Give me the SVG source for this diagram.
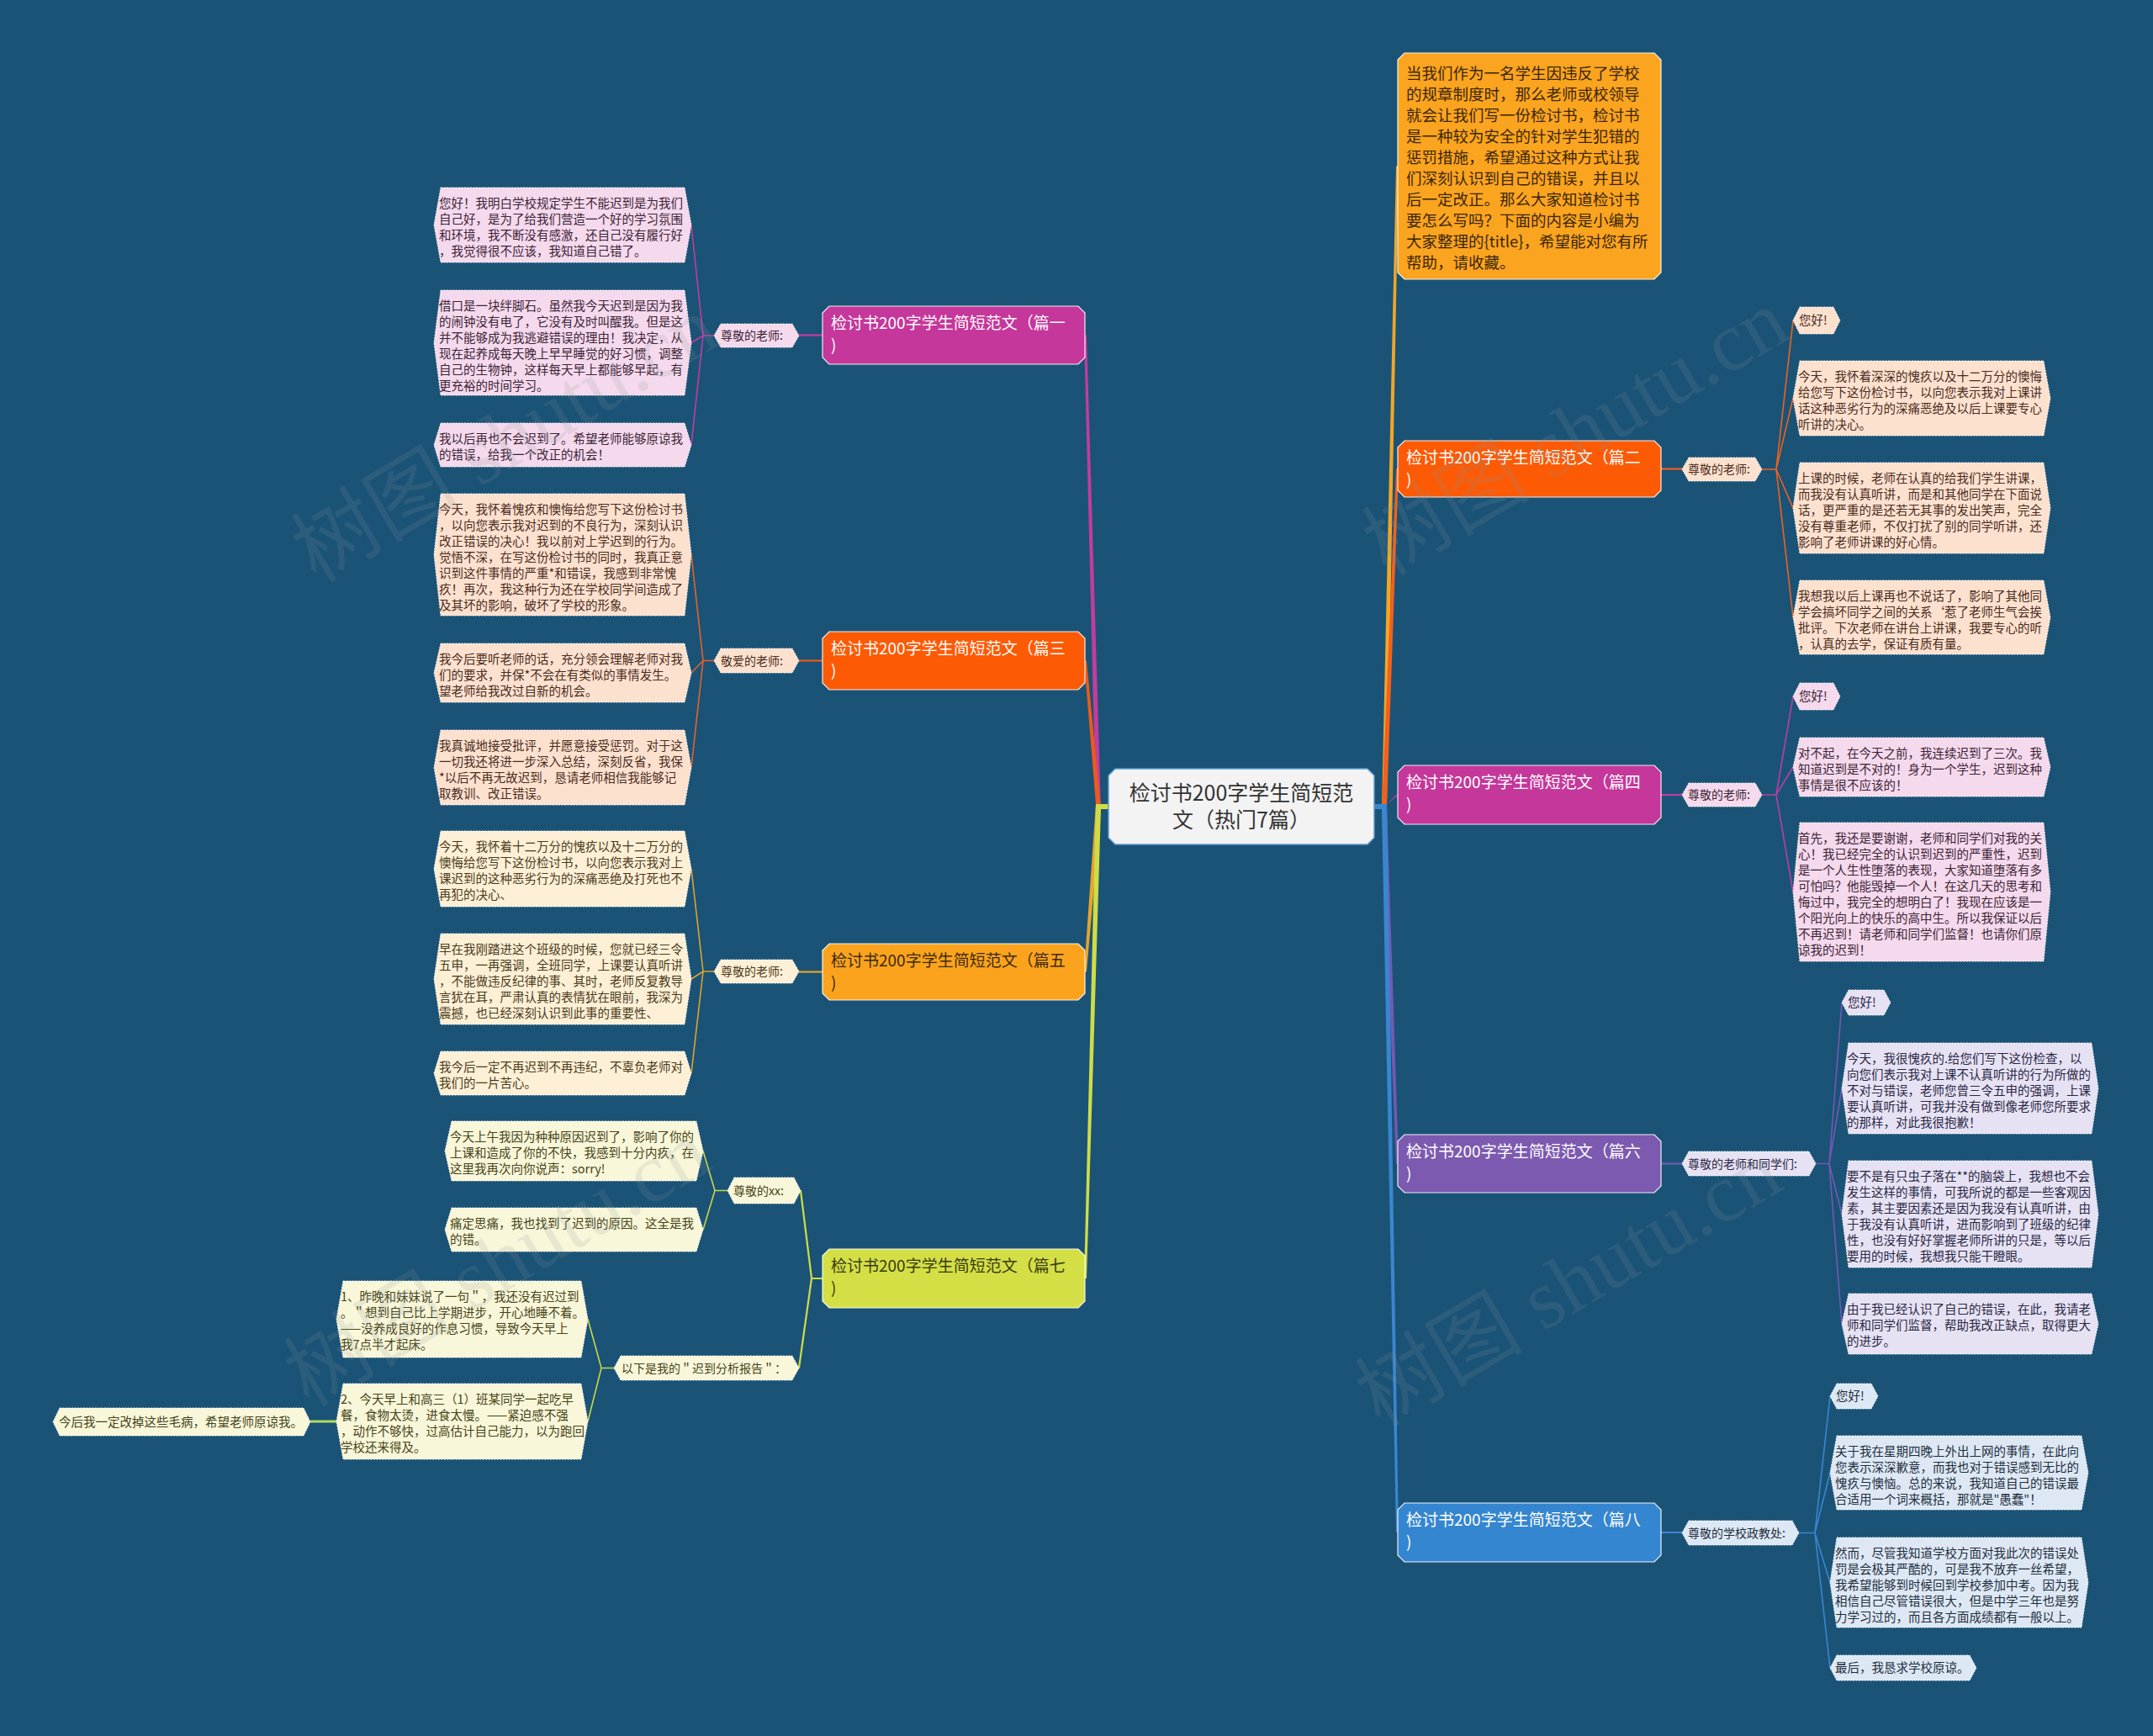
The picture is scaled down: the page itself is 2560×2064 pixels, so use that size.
<svg xmlns="http://www.w3.org/2000/svg" width="2560" height="2064" viewBox="0 0 2560 2064">
<style>
.t{font-family:"Noto Sans CJK SC","Noto Sans",sans-serif}
.lt{font-size:14.5px}
.mt{font-size:14px}
.bt{font-size:19px}
.leaf{stroke:#ffffff;stroke-width:1;stroke-dasharray:2 1.5;stroke-opacity:.85}
.main{stroke:#ffffff;stroke-width:1.2;stroke-opacity:.9}
.pk{fill:#F5D9EC}.pkt{fill:#3b2436}
.pe{fill:#FDE1CF}.pet{fill:#4a2c1c}
.cr{fill:#FEF0D6}.crt{fill:#4b3b1c}
.yl{fill:#F9F7D9}.ylt{fill:#46441a}
.lv{fill:#E6E2F3}.lvt{fill:#2a2745}
.lb{fill:#DDE8F4}.lbt{fill:#1e2e3e}
.ln{fill:none;stroke-width:1.6;stroke-linejoin:round}
.ln2{fill:none;stroke-width:2.2}
.wm{font-family:"Liberation Serif","Noto Sans CJK SC",serif;font-size:100px;fill:#8a969c;opacity:.16}
</style>
<rect width="2560" height="2064" fill="#1A5376"/>

<g id="connectors">
  <!-- center to main (tapered) -->
  <polygon points="1320,956 1303,956 1289,398.5 1292,398.5 1309,962 1320,962" fill="#C43C9C"/>
  <polygon points="1320,956 1303,956 1289,785.5 1292,785.5 1309,962 1320,962" fill="#EE5A1A"/>
  <polygon points="1320,956 1303,956 1289,1155.5 1292,1155.5 1309,962 1320,962" fill="#E8A42A"/>
  <polygon points="1320,956 1303,956 1289,1520 1292,1520 1309,962 1320,962" fill="#CFDC46"/>
  <polygon points="1632,956 1649,956 1663,197.5 1660,197.5 1643,962 1632,962" fill="#F2A626"/>
  <polygon points="1632,956 1649,956 1663,557.5 1660,557.5 1643,962 1632,962" fill="#F2601C"/>
  <polygon points="1632,956 1649,956 1663,945 1660,945 1643,962 1632,962" fill="#BE3E9E"/>
  <polygon points="1632,956 1649,956 1663,1383.5 1660,1383.5 1643,962 1632,962" fill="#7558B4"/>
  <polygon points="1632,956 1649,956 1663,1822 1660,1822 1643,962 1632,962" fill="#3A86D0"/>
  <!-- main to sub -->
  <path class="ln2" stroke="#C43C9C" d="M978,398.5 H950"/>
  <path class="ln2" stroke="#EE5A1A" d="M978,785.5 H950"/>
  <path class="ln2" stroke="#E8A42A" d="M978,1155.5 H950"/>
  <path class="ln2" stroke="#CFDC46" d="M978,1520 H965 L952,1415.5 M965,1520 L950,1626.5"/>
  <path class="ln2" stroke="#F2601C" d="M1975,557.5 H2000"/>
  <path class="ln2" stroke="#BE3E9E" d="M1975,945 H2000"/>
  <path class="ln2" stroke="#7558B4" d="M1975,1383.5 H2000"/>
  <path class="ln2" stroke="#3A86D0" d="M1975,1822 H2000"/>
  <!-- sub to leaves -->
  <path class="ln" stroke="#C43C9C" d="M849,399 H836 L822,267.5 M836,399 L822,407.5 M836,399 L822,529"/>
  <path class="ln" stroke="#E8622A" d="M849,785.5 H836 L822,659.5 M836,785.5 L822,800 M836,785.5 L822,912.5"/>
  <path class="ln" stroke="#E2A32E" d="M849,1155 H836 L822,1033 M836,1155 L822,1164 M836,1155 L822,1276"/>
  <path class="ln" stroke="#C9D64A" d="M865,1415.5 H850 L836,1368.5 M850,1415.5 L836,1462"/>
  <path class="ln" stroke="#C9D64A" d="M730,1626.5 H715 L699,1568.5 M715,1626.5 L699,1690"/>
  <path fill="none" stroke="#B8D860" stroke-width="3" d="M400,1690 H369"/>
  <path class="ln" stroke="#F0621E" d="M2095,558 H2112 L2132,381 M2112,558 L2132,473.5 M2112,558 L2132,604 M2112,558 L2132,734"/>
  <path class="ln" stroke="#B8409F" d="M2095,945 H2112 L2132,828 M2112,945 L2132,912 M2112,945 L2132,1060.5"/>
  <path class="ln" stroke="#7458B4" d="M2159,1383.5 H2175 L2190,1192 M2175,1383.5 L2190,1294 M2175,1383.5 L2190,1443.5 M2175,1383.5 L2190,1574"/>
  <path class="ln" stroke="#3A86D0" d="M2139,1822.5 H2158 L2176,1660 M2158,1822.5 L2176,1751 M2158,1822.5 L2176,1881.5 M2158,1822.5 L2176,1983"/>
</g>

<g id="center">
  <polygon points="1326,914 1626,914 1634,922 1634,996 1626,1004 1326,1004 1318,996 1318,922" fill="#F3F3F3" stroke="#5B9BD5" stroke-width="1.5"/>
  <text class="t" font-size="25" fill="#333333" text-anchor="middle"><tspan x="1476" y="952">检讨书200字学生简短范</tspan><tspan x="1476" y="984">文（热门7篇）</tspan></text>
</g>

<g id="intro">
  <polygon class="main" points="1670,63 1967,63 1975,71 1975,324 1967,332 1670,332 1662,324 1662,71" fill="#FBA41F"/>
  <text class="t" font-size="18.5" fill="#3a2606">
    <tspan x="1672" y="93.5">当我们作为一名学生因违反了学校</tspan>
    <tspan x="1672" y="118.5">的规章制度时，那么老师或校领导</tspan>
    <tspan x="1672" y="143.5">就会让我们写一份检讨书，检讨书</tspan>
    <tspan x="1672" y="168.5">是一种较为安全的针对学生犯错的</tspan>
    <tspan x="1672" y="193.5">惩罚措施，希望通过这种方式让我</tspan>
    <tspan x="1672" y="218.5">们深刻认识到自己的错误，并且以</tspan>
    <tspan x="1672" y="243.5">后一定改正。那么大家知道检讨书</tspan>
    <tspan x="1672" y="268.5">要怎么写吗？下面的内容是小编为</tspan>
    <tspan x="1672" y="293.5">大家整理的{title}，希望能对您有所</tspan>
    <tspan x="1672" y="318.5">帮助，请收藏。</tspan>
  </text>
</g>

<!-- 篇一 -->
<g id="p1">
  <polygon class="main" points="986,364 1282,364 1290,372 1290,425 1282,433 986,433 978,425 978,372" fill="#C5379A"/>
  <text class="t bt" fill="#ffffff"><tspan x="988" y="391">检讨书200字学生简短范文（篇一</tspan><tspan x="988" y="417">)</tspan></text>
</g>
<g id="p1-m">
  <polygon class="leaf pk" points="857,385 942,385 950,399 942,413 857,413 849,399"/>
  <text class="t mt pkt" x="857" y="404">尊敬的老师:</text>
</g>
<g id="p1-a">
  <polygon class="leaf pk" points="524,223 814,223 822,267.5 814,312 524,312 516,267.5"/>
  <text class="t lt pkt"><tspan x="522" y="246.5">您好！我明白学校规定学生不能迟到是为我们</tspan><tspan x="522" y="265.5">自己好，是为了给我们营造一个好的学习氛围</tspan><tspan x="522" y="284.5">和环境，我不断没有感激，还自己没有履行好</tspan><tspan x="522" y="303.5">，我觉得很不应该，我知道自己错了。</tspan></text>
</g>
<g id="p1-b">
  <polygon class="leaf pk" points="524,345 814,345 822,407.5 814,470 524,470 516,407.5"/>
  <text class="t lt pkt"><tspan x="522" y="368.5">借口是一块绊脚石。虽然我今天迟到是因为我</tspan><tspan x="522" y="387.5">的闹钟没有电了，它没有及时叫醒我。但是这</tspan><tspan x="522" y="406.5">并不能够成为我逃避错误的理由！我决定，从</tspan><tspan x="522" y="425.5">现在起养成每天晚上早早睡觉的好习惯，调整</tspan><tspan x="522" y="444.5">自己的生物钟，这样每天早上都能够早起，有</tspan><tspan x="522" y="463.5">更充裕的时间学习。</tspan></text>
</g>
<g id="p1-c">
  <polygon class="leaf pk" points="524,503 814,503 822,529 814,555 524,555 516,529"/>
  <text class="t lt pkt"><tspan x="522" y="526.5">我以后再也不会迟到了。希望老师能够原谅我</tspan><tspan x="522" y="545.5">的错误，给我一个改正的机会！</tspan></text>
</g>

<!-- 篇三 -->
<g id="p3">
  <polygon class="main" points="986,751 1282,751 1290,759 1290,812 1282,820 986,820 978,812 978,759" fill="#FD5A05"/>
  <text class="t bt" fill="#ffffff"><tspan x="988" y="778">检讨书200字学生简短范文（篇三</tspan><tspan x="988" y="804">)</tspan></text>
</g>
<g id="p3-m">
  <polygon class="leaf pe" points="857,771 942,771 950,785.5 942,800 857,800 849,785.5"/>
  <text class="t mt pet" x="857" y="790.5">敬爱的老师:</text>
</g>
<g id="p3-a">
  <polygon class="leaf pe" points="524,587 814,587 822,659.5 814,732 524,732 516,659.5"/>
  <text class="t lt pet"><tspan x="522" y="610.5">今天，我怀着愧疚和懊悔给您写下这份检讨书</tspan><tspan x="522" y="629.5">，以向您表示我对迟到的不良行为，深刻认识</tspan><tspan x="522" y="648.5">改正错误的决心！我以前对上学迟到的行为。</tspan><tspan x="522" y="667.5">觉悟不深，在写这份检讨书的同时，我真正意</tspan><tspan x="522" y="686.5">识到这件事情的严重*和错误，我感到非常愧</tspan><tspan x="522" y="705.5">疚！再次，我这种行为还在学校同学间造成了</tspan><tspan x="522" y="724.5">及其坏的影响，破坏了学校的形象。</tspan></text>
</g>
<g id="p3-b">
  <polygon class="leaf pe" points="524,765 814,765 822,800 814,835 524,835 516,800"/>
  <text class="t lt pet"><tspan x="522" y="788.5">我今后要听老师的话，充分领会理解老师对我</tspan><tspan x="522" y="807.5">们的要求，并保*不会在有类似的事情发生。</tspan><tspan x="522" y="826.5">望老师给我改过自新的机会。</tspan></text>
</g>
<g id="p3-c">
  <polygon class="leaf pe" points="524,868 814,868 822,912.5 814,957 524,957 516,912.5"/>
  <text class="t lt pet"><tspan x="522" y="891.5">我真诚地接受批评，并愿意接受惩罚。对于这</tspan><tspan x="522" y="910.5">一切我还将进一步深入总结，深刻反省，我保</tspan><tspan x="522" y="929.5">*以后不再无故迟到，恳请老师相信我能够记</tspan><tspan x="522" y="948.5">取教训、改正错误。</tspan></text>
</g>

<!-- 篇五 -->
<g id="p5">
  <polygon class="main" points="986,1122 1282,1122 1290,1130 1290,1181 1282,1189 986,1189 978,1181 978,1130" fill="#FBA31D"/>
  <text class="t bt" fill="#3a2a10"><tspan x="988" y="1149">检讨书200字学生简短范文（篇五</tspan><tspan x="988" y="1175">)</tspan></text>
</g>
<g id="p5-m">
  <polygon class="leaf cr" points="857,1141 942,1141 950,1155 942,1169 857,1169 849,1155"/>
  <text class="t mt crt" x="857" y="1160">尊敬的老师:</text>
</g>
<g id="p5-a">
  <polygon class="leaf cr" points="524,988 814,988 822,1033 814,1078 524,1078 516,1033"/>
  <text class="t lt crt"><tspan x="522" y="1011.5">今天，我怀着十二万分的愧疚以及十二万分的</tspan><tspan x="522" y="1030.5">懊悔给您写下这份检讨书，以向您表示我对上</tspan><tspan x="522" y="1049.5">课迟到的这种恶劣行为的深痛恶绝及打死也不</tspan><tspan x="522" y="1068.5">再犯的决心、</tspan></text>
</g>
<g id="p5-b">
  <polygon class="leaf cr" points="524,1110 814,1110 822,1164 814,1218 524,1218 516,1164"/>
  <text class="t lt crt"><tspan x="522" y="1133.5">早在我刚踏进这个班级的时候，您就已经三令</tspan><tspan x="522" y="1152.5">五申，一再强调，全班同学，上课要认真听讲</tspan><tspan x="522" y="1171.5">，不能做违反纪律的事、其时，老师反复教导</tspan><tspan x="522" y="1190.5">言犹在耳，严肃认真的表情犹在眼前，我深为</tspan><tspan x="522" y="1209.5">震撼，也已经深刻认识到此事的重要性、</tspan></text>
</g>
<g id="p5-c">
  <polygon class="leaf cr" points="524,1250 814,1250 822,1276 814,1302 524,1302 516,1276"/>
  <text class="t lt crt"><tspan x="522" y="1273.5">我今后一定不再迟到不再违纪，不辜负老师对</tspan><tspan x="522" y="1292.5">我们的一片苦心。</tspan></text>
</g>

<!-- 篇七 -->
<g id="p7">
  <polygon class="main" points="986,1485 1282,1485 1290,1493 1290,1547 1282,1555 986,1555 978,1547 978,1493" fill="#D3DF45"/>
  <text class="t bt" fill="#3a3a12"><tspan x="988" y="1512">检讨书200字学生简短范文（篇七</tspan><tspan x="988" y="1538">)</tspan></text>
</g>
<g id="p7-m1">
  <polygon class="leaf yl" points="873,1400 944,1400 952,1415.5 944,1431 873,1431 865,1415.5"/>
  <text class="t mt ylt" x="872" y="1420.5">尊敬的xx:</text>
</g>
<g id="p7-a">
  <polygon class="leaf yl" points="537,1333 828,1333 836,1368.5 828,1404 537,1404 529,1368.5"/>
  <text class="t lt ylt"><tspan x="535" y="1356.5">今天上午我因为种种原因迟到了，影响了你的</tspan><tspan x="535" y="1375.5">上课和造成了你的不快，我感到十分内疚，在</tspan><tspan x="535" y="1394.5">这里我再次向你说声：sorry!</tspan></text>
</g>
<g id="p7-b">
  <polygon class="leaf yl" points="537,1436 828,1436 836,1462 828,1488 537,1488 529,1462"/>
  <text class="t lt ylt"><tspan x="535" y="1459.5">痛定思痛，我也找到了迟到的原因。这全是我</tspan><tspan x="535" y="1478.5">的错。</tspan></text>
</g>
<g id="p7-m2">
  <polygon class="leaf yl" points="738,1612 942,1612 950,1626.5 942,1641 738,1641 730,1626.5"/>
  <text class="t mt ylt" x="739" y="1631.5">以下是我的＂迟到分析报告＂：</text>
</g>
<g id="p7-c">
  <polygon class="leaf yl" points="408,1523 691,1523 699,1568.5 691,1614 408,1614 400,1568.5"/>
  <text class="t lt ylt"><tspan x="405" y="1546.5">1、昨晚和妹妹说了一句＂，我还没有迟过到</tspan><tspan x="405" y="1565.5">。＂想到自己比上学期进步，开心地睡不着。</tspan><tspan x="405" y="1584.5">——没养成良好的作息习惯，导致今天早上</tspan><tspan x="405" y="1603.5">我7点半才起床。</tspan></text>
</g>
<g id="p7-d">
  <polygon class="leaf yl" points="408,1645 691,1645 699,1690 691,1735 408,1735 400,1690"/>
  <text class="t lt ylt"><tspan x="405" y="1668.5">2、今天早上和高三（1）班某同学一起吃早</tspan><tspan x="405" y="1687.5">餐，食物太烫，进食太慢。——紧迫感不强</tspan><tspan x="405" y="1706.5">，动作不够快，过高估计自己能力，以为跑回</tspan><tspan x="405" y="1725.5">学校还来得及。</tspan></text>
</g>
<g id="p7-e">
  <polygon class="leaf yl" points="71,1674 361,1674 369,1690.5 361,1707 71,1707 63,1690.5"/>
  <text class="t lt ylt" x="70" y="1696">今后我一定改掉这些毛病，希望老师原谅我。</text>
</g>

<!-- 篇二 -->
<g id="p2">
  <polygon class="main" points="1670,524 1967,524 1975,532 1975,583 1967,591 1670,591 1662,583 1662,532" fill="#FD5A05"/>
  <text class="t bt" fill="#ffffff"><tspan x="1672" y="551">检讨书200字学生简短范文（篇二</tspan><tspan x="1672" y="577">)</tspan></text>
</g>
<g id="p2-m">
  <polygon class="leaf pe" points="2008,544 2087,544 2095,558 2087,572 2008,572 2000,558"/>
  <text class="t mt pet" x="2007" y="563">尊敬的老师:</text>
</g>
<g id="p2-h">
  <polygon class="leaf pe" points="2140,365 2180,365 2188,381 2180,397 2140,397 2132,381"/>
  <text class="t lt pet" x="2139" y="386">您好!</text>
</g>
<g id="p2-a">
  <polygon class="leaf pe" points="2140,429 2430,429 2438,473.5 2430,518 2140,518 2132,473.5"/>
  <text class="t lt pet"><tspan x="2138" y="452.5">今天，我怀着深深的愧疚以及十二万分的懊悔</tspan><tspan x="2138" y="471.5">给您写下这份检讨书，以向您表示我对上课讲</tspan><tspan x="2138" y="490.5">话这种恶劣行为的深痛恶绝及以后上课要专心</tspan><tspan x="2138" y="509.5">听讲的决心。</tspan></text>
</g>
<g id="p2-b">
  <polygon class="leaf pe" points="2140,550 2430,550 2438,604 2430,658 2140,658 2132,604"/>
  <text class="t lt pet"><tspan x="2138" y="573.5">上课的时候，老师在认真的给我们学生讲课，</tspan><tspan x="2138" y="592.5">而我没有认真听讲，而是和其他同学在下面说</tspan><tspan x="2138" y="611.5">话，更严重的是还若无其事的发出笑声，完全</tspan><tspan x="2138" y="630.5">没有尊重老师，不仅打扰了别的同学听讲，还</tspan><tspan x="2138" y="649.5">影响了老师讲课的好心情。</tspan></text>
</g>
<g id="p2-c">
  <polygon class="leaf pe" points="2140,690 2430,690 2438,734 2430,778 2140,778 2132,734"/>
  <text class="t lt pet"><tspan x="2138" y="713.5">我想我以后上课再也不说话了，影响了其他同</tspan><tspan x="2138" y="732.5">学会搞坏同学之间的关系‘惹了老师生气会挨</tspan><tspan x="2138" y="751.5">批评。下次老师在讲台上讲课，我要专心的听</tspan><tspan x="2138" y="770.5">，认真的去学，保证有质有量。</tspan></text>
</g>

<!-- 篇四 -->
<g id="p4">
  <polygon class="main" points="1670,910 1967,910 1975,918 1975,972 1967,980 1670,980 1662,972 1662,918" fill="#C5379A"/>
  <text class="t bt" fill="#ffffff"><tspan x="1672" y="937">检讨书200字学生简短范文（篇四</tspan><tspan x="1672" y="963">)</tspan></text>
</g>
<g id="p4-m">
  <polygon class="leaf pk" points="2008,931 2087,931 2095,945 2087,959 2008,959 2000,945"/>
  <text class="t mt pkt" x="2007" y="950">尊敬的老师:</text>
</g>
<g id="p4-h">
  <polygon class="leaf pk" points="2140,812 2180,812 2188,828 2180,844 2140,844 2132,828"/>
  <text class="t lt pkt" x="2139" y="833">您好!</text>
</g>
<g id="p4-a">
  <polygon class="leaf pk" points="2140,877 2430,877 2438,912 2430,947 2140,947 2132,912"/>
  <text class="t lt pkt"><tspan x="2138" y="900.5">对不起，在今天之前，我连续迟到了三次。我</tspan><tspan x="2138" y="919.5">知道迟到是不对的！身为一个学生，迟到这种</tspan><tspan x="2138" y="938.5">事情是很不应该的！</tspan></text>
</g>
<g id="p4-b">
  <polygon class="leaf pk" points="2140,978 2430,978 2438,1060.5 2430,1143 2140,1143 2132,1060.5"/>
  <text class="t lt pkt"><tspan x="2138" y="1001.5">首先，我还是要谢谢，老师和同学们对我的关</tspan><tspan x="2138" y="1020.5">心！我已经完全的认识到迟到的严重性，迟到</tspan><tspan x="2138" y="1039.5">是一个人生性堕落的表现，大家知道堕落有多</tspan><tspan x="2138" y="1058.5">可怕吗？他能毁掉一个人！在这几天的思考和</tspan><tspan x="2138" y="1077.5">悔过中，我完全的想明白了！我现在应该是一</tspan><tspan x="2138" y="1096.5">个阳光向上的快乐的高中生。所以我保证以后</tspan><tspan x="2138" y="1115.5">不再迟到！请老师和同学们监督！也请你们原</tspan><tspan x="2138" y="1134.5">谅我的迟到！</tspan></text>
</g>

<!-- 篇六 -->
<g id="p6">
  <polygon class="main" points="1670,1349 1967,1349 1975,1357 1975,1410 1967,1418 1670,1418 1662,1410 1662,1357" fill="#7C5AB0"/>
  <text class="t bt" fill="#ffffff"><tspan x="1672" y="1376">检讨书200字学生简短范文（篇六</tspan><tspan x="1672" y="1402">)</tspan></text>
</g>
<g id="p6-m">
  <polygon class="leaf lv" points="2008,1369 2151,1369 2159,1383.5 2151,1398 2008,1398 2000,1383.5"/>
  <text class="t mt lvt" x="2007" y="1388.5">尊敬的老师和同学们:</text>
</g>
<g id="p6-h">
  <polygon class="leaf lv" points="2198,1177 2240,1177 2248,1192 2240,1207 2198,1207 2190,1192"/>
  <text class="t lt lvt" x="2197" y="1197">您好!</text>
</g>
<g id="p6-a">
  <polygon class="leaf lv" points="2198,1240 2487,1240 2495,1294 2487,1348 2198,1348 2190,1294"/>
  <text class="t lt lvt"><tspan x="2196" y="1263.5">今天，我很愧疚的.给您们写下这份检查，以</tspan><tspan x="2196" y="1282.5">向您们表示我对上课不认真听讲的行为所做的</tspan><tspan x="2196" y="1301.5">不对与错误，老师您曾三令五申的强调，上课</tspan><tspan x="2196" y="1320.5">要认真听讲，可我并没有做到像老师您所要求</tspan><tspan x="2196" y="1339.5">的那样，对此我很抱歉！</tspan></text>
</g>
<g id="p6-b">
  <polygon class="leaf lv" points="2198,1380 2487,1380 2495,1443.5 2487,1507 2198,1507 2190,1443.5"/>
  <text class="t lt lvt"><tspan x="2196" y="1403.5">要不是有只虫子落在**的脑袋上，我想也不会</tspan><tspan x="2196" y="1422.5">发生这样的事情，可我所说的都是一些客观因</tspan><tspan x="2196" y="1441.5">素，其主要因素还是因为我没有认真听讲，由</tspan><tspan x="2196" y="1460.5">于我没有认真听讲，进而影响到了班级的纪律</tspan><tspan x="2196" y="1479.5">性，也没有好好掌握老师所讲的只是，等以后</tspan><tspan x="2196" y="1498.5">要用的时候，我想我只能干瞪眼。</tspan></text>
</g>
<g id="p6-c">
  <polygon class="leaf lv" points="2198,1538 2487,1538 2495,1574 2487,1610 2198,1610 2190,1574"/>
  <text class="t lt lvt"><tspan x="2196" y="1561.5">由于我已经认识了自己的错误，在此，我请老</tspan><tspan x="2196" y="1580.5">师和同学们监督，帮助我改正缺点，取得更大</tspan><tspan x="2196" y="1599.5">的进步。</tspan></text>
</g>

<!-- 篇八 -->
<g id="p8">
  <polygon class="main" points="1670,1787 1967,1787 1975,1795 1975,1849 1967,1857 1670,1857 1662,1849 1662,1795" fill="#3586D0"/>
  <text class="t bt" fill="#ffffff"><tspan x="1672" y="1814">检讨书200字学生简短范文（篇八</tspan><tspan x="1672" y="1840">)</tspan></text>
</g>
<g id="p8-m">
  <polygon class="leaf lb" points="2008,1808 2131,1808 2139,1822.5 2131,1837 2008,1837 2000,1822.5"/>
  <text class="t mt lbt" x="2007" y="1827.5">尊敬的学校政教处:</text>
</g>
<g id="p8-h">
  <polygon class="leaf lb" points="2184,1645 2225,1645 2233,1660 2225,1675 2184,1675 2176,1660"/>
  <text class="t lt lbt" x="2183" y="1665">您好!</text>
</g>
<g id="p8-a">
  <polygon class="leaf lb" points="2184,1707 2475,1707 2483,1751 2475,1795 2184,1795 2176,1751"/>
  <text class="t lt lbt"><tspan x="2182" y="1730.5">关于我在星期四晚上外出上网的事情，在此向</tspan><tspan x="2182" y="1749.5">您表示深深歉意，而我也对于错误感到无比的</tspan><tspan x="2182" y="1768.5">愧疚与懊恼。总的来说，我知道自己的错误最</tspan><tspan x="2182" y="1787.5">合适用一个词来概括，那就是"愚蠢"！</tspan></text>
</g>
<g id="p8-b">
  <polygon class="leaf lb" points="2184,1828 2475,1828 2483,1881.5 2475,1935 2184,1935 2176,1881.5"/>
  <text class="t lt lbt"><tspan x="2182" y="1851.5">然而，尽管我知道学校方面对我此次的错误处</tspan><tspan x="2182" y="1870.5">罚是会极其严酷的，可是我不放弃一丝希望，</tspan><tspan x="2182" y="1889.5">我希望能够到时候回到学校参加中考。因为我</tspan><tspan x="2182" y="1908.5">相信自己尽管错误很大，但是中学三年也是努</tspan><tspan x="2182" y="1927.5">力学习过的，而且各方面成绩都有一般以上。</tspan></text>
</g>
<g id="p8-c">
  <polygon class="leaf lb" points="2184,1968 2342,1968 2350,1983 2342,1998 2184,1998 2176,1983"/>
  <text class="t lt lbt" x="2182" y="1988">最后，我恳求学校原谅。</text>
</g>

<g id="watermarks">
  <text class="wm" transform="translate(376,694) rotate(-30.6)">树图 shutu.cn</text>
  <text class="wm" transform="translate(1649,686) rotate(-30.6)">树图 shutu.cn</text>
  <text class="wm" transform="translate(367,1674) rotate(-30.6)">树图 shutu.cn</text>
  <text class="wm" transform="translate(1641,1698) rotate(-30.6)">树图 shutu.cn</text>
</g>
</svg>
